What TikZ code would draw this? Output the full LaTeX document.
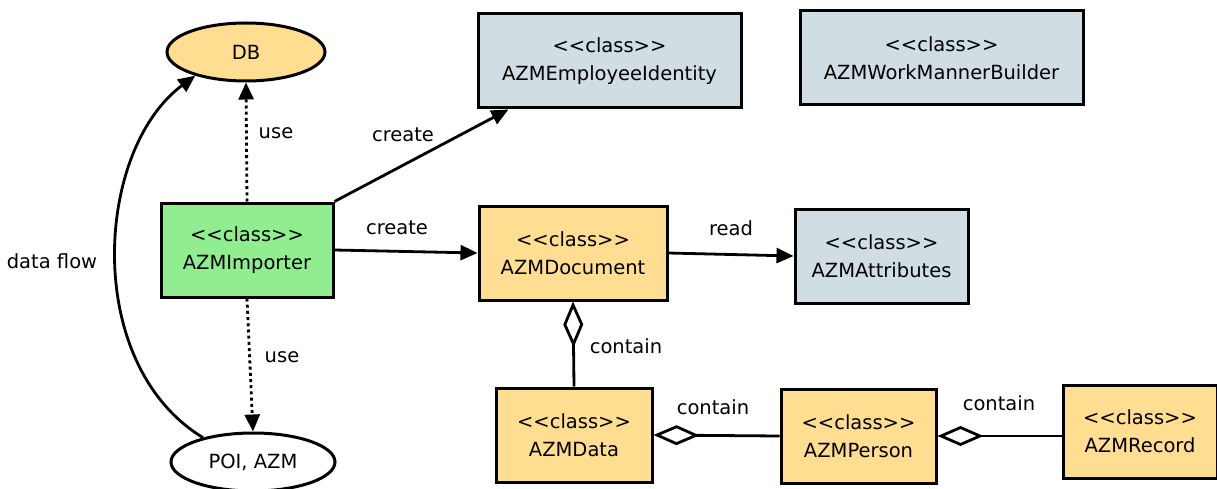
\documentclass[tikz,border=0pt]{standalone}
\usepackage{fontspec}
\setmainfont{DejaVu Sans}
\usetikzlibrary{shapes.geometric,arrows.meta,calc}
\definecolor{cyellow}{HTML}{FFDE92}
\definecolor{cblue}{HTML}{D0DEE4}
\definecolor{cgreen}{HTML}{90EE90}
\newcommand\stereo{<\kern0pt<class>\kern0pt>}
\tikzset{
  txt/.style={font=\fontsize{19.5}{28}\selectfont},
  cls/.style={txt, draw=black, line width=3pt, rectangle, align=center, inner sep=0pt},
  ell/.style={txt, draw=black, line width=3pt, ellipse, inner sep=0pt},
  conn/.style={line width=2.8pt},
  arr/.style={conn, -{Triangle[length=17pt,width=15pt]}},
  dot/.style={arr, dash pattern=on 3pt off 3.2pt},
  agg/.style={conn, {Diamond[open,length=46pt,width=20pt,line width=2.8pt]}-},
  lbl/.style={txt, inner sep=0pt}
}
\begin{document}
\begin{tikzpicture}[x=1pt,y=-1pt]
\useasboundingbox (0,0) rectangle (1217,489);
% nodes
\node[ell, fill=cyellow, minimum width=158pt, minimum height=58pt] (db) at (246,52) {DB};
\node[ell, fill=white, minimum width=164pt, minimum height=58pt] (poi) at (253,462) {POI, AZM};
\node[cls, fill=cblue, minimum width=263pt, minimum height=94pt] (ei) at (609.5,61) {\stereo\\AZMEmployeeIdentity};
\node[cls, fill=cblue, minimum width=283pt, minimum height=94pt] (wmb) at (941.5,58) {\stereo\\AZMWorkMannerBuilder};
\node[cls, fill=cgreen, minimum width=172pt, minimum height=94pt] (imp) at (247,250) {\stereo\\AZMImporter};
\node[cls, fill=cyellow, minimum width=188pt, minimum height=94pt] (doc) at (573,253) {\stereo\\AZMDocument};
\node[cls, fill=cblue, minimum width=173pt, minimum height=94pt] (attr) at (881.5,256) {\stereo\\AZMAttributes};
\node[cls, fill=cyellow, minimum width=156pt, minimum height=94pt] (data) at (574,435) {\stereo\\AZMData};
\node[cls, fill=cyellow, minimum width=155pt, minimum height=94pt] (pers) at (858.5,436) {\stereo\\AZMPerson};
\node[cls, fill=cyellow, minimum width=154pt, minimum height=93pt] (rec) at (1140,431.5) {\stereo\\AZMRecord};
% connectors
\draw[dot] (imp.north) -- (db.south);
\draw[dot] (imp.south) -- (poi.north);
\draw[arr] (poi.154) .. controls (82,364) and (95,150) .. (db.205);
\draw[arr] (imp.north east) -- ($(ei.south west)!0.12!(ei.south east)$);
\draw[arr] (imp.east) -- (doc.west);
\draw[arr] (doc.east) -- (attr.west);
\draw[agg] (doc.south) -- (data.north);
\draw[agg] (data.east) -- (pers.west);
\draw[agg] (pers.east) -- (pers.east -| rec.west);
% labels
\node[lbl] (l1) at (276,133) {use};
\node[lbl] (l2) at (282,357) {use};
\node[lbl] (l3) at (52,261) {data flow};
\node[lbl] (l4) at (403,135) {create};
\node[lbl] (l5) at (397,228) {create};
\node[lbl] (l6) at (731,228) {read};
\node[lbl] (l7) at (626,346) {contain};
\node[lbl] (l8) at (713,407) {contain};
\node[lbl] (l9) at (999,403) {contain};
\end{tikzpicture}
\end{document}
